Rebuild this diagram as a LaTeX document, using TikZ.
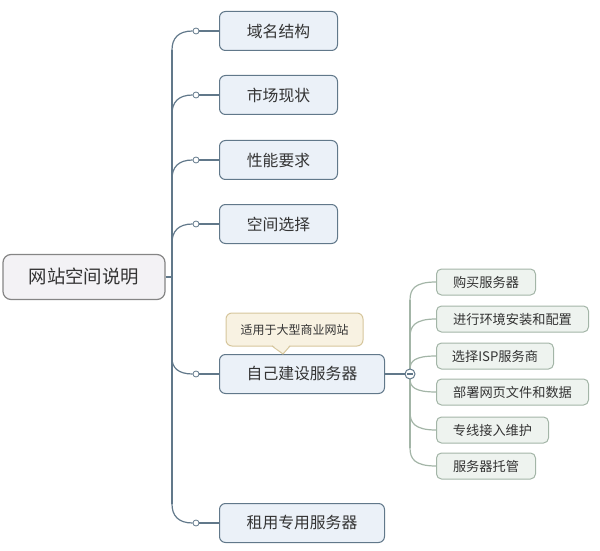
\documentclass[tikz,border=0pt]{standalone}
\usepackage{fontspec}
\setmainfont{Noto Sans CJK SC}
\usetikzlibrary{positioning}

\definecolor{rootfill}{HTML}{F3F2F5}
\definecolor{rootline}{HTML}{858585}
\definecolor{mainfill}{HTML}{EBF1F8}
\definecolor{mainline}{HTML}{61788A}
\definecolor{subfill}{HTML}{EEF3EF}
\definecolor{subline}{HTML}{A3B5A7}
\definecolor{hintfill}{HTML}{F8F2E2}
\definecolor{hintline}{HTML}{D6C69C}
\definecolor{txt}{HTML}{333333}

\begin{document}
\begin{tikzpicture}[x=0.5pt,y=-0.5pt,
	rootbox/.style={draw=rootline, fill=rootfill, rounded corners=4pt, line width=0.6pt,
		minimum width=81pt, minimum height=22.5pt, text=txt, font=\fontsize{9.2}{11}\selectfont},
	mainbox/.style={draw=mainline, fill=mainfill, rounded corners=3pt, line width=0.5pt,
		anchor=west, minimum height=19.5pt, text=txt, font=\fontsize{7.9}{9}\selectfont},
	subbox/.style={draw=subline, fill=subfill, rounded corners=2.5pt, line width=0.5pt,
		anchor=west, minimum height=13pt, text=txt, font=\fontsize{6.6}{8}\selectfont},
	hintbox/.style={draw=hintline, fill=hintfill, rounded corners=3pt, line width=0.5pt,
		minimum width=68.5pt, minimum height=16.5pt, text=txt, font=\fontsize{6}{7}\selectfont},
	knob/.style={circle, draw=mainline, fill=white, line width=0.4pt, inner sep=0pt, minimum size=3pt},
	fold/.style={circle, draw=mainline, fill=white, line width=0.5pt, inner sep=0pt, minimum size=5pt},
	mainlink/.style={draw=mainline, line width=0.6pt},
	sublink/.style={draw=subline, line width=0.6pt}]

	\useasboundingbox (0,0) rectangle (600,551);

	% root
	\node[rootbox] (root) at (84,277) {网站空间说明};

	% first level
	\node[mainbox, minimum width=59pt] (domain) at (219,31) {域名结构};
	\node[mainbox, minimum width=59pt] (market) at (219,95) {市场现状};
	\node[mainbox, minimum width=59pt] (perf) at (219,160) {性能要求};
	\node[mainbox, minimum width=59pt] (choice) at (219,224) {空间选择};
	\node[mainbox, minimum width=82.5pt] (build) at (219,374) {自己建设服务器};
	\node[mainbox, minimum width=82.5pt] (rent) at (219,523) {租用专用服务器};

	\node[hintbox] (hint) at (294.5,329.5) {适用于大型商业网站};
	\fill[hintfill] (272,344.5) -- (283,354) -- (290,344.5) -- cycle;
	\draw[hintline, line width=0.5pt] (272,346) -- (283,354) -- (290,346);

	% trunk
	\coordinate (ttop) at (172,50);
	\coordinate (tbot) at (172,504);
	\draw[mainlink] (root.east) -- (172,277);
	\draw[mainlink] (ttop) -- (tbot);

	\foreach \name/\y/\d in {domain/31/19, market/95/19, perf/160/19, choice/224/19, build/374/-16, rent/523/-19} {
		\node[knob] (k\name) at (196,\y) {};
		\draw[mainlink] (172,\y+\d) .. controls (172,\y+0.4*\d) and (178,\y) .. (k\name.west);
		\draw[mainlink] (k\name.east) -- (\name.west);
	}

	% second level
	\node[subbox, minimum width=49.5pt] (buy) at (436,282) {购买服务器};
	\node[subbox, minimum width=76pt] (setup) at (436,319) {进行环境安装和配置};
	\node[subbox, minimum width=58.5pt] (isp) at (436,356) {选择ISP服务商};
	\node[subbox, minimum width=76pt] (deploy) at (436,392) {部署网页文件和数据};
	\node[subbox, minimum width=56pt] (line) at (436,430) {专线接入维护};
	\node[subbox, minimum width=49.5pt] (host) at (436,466) {服务器托管};

	\draw[sublink] (410,300) -- (410,448);
	\draw[sublink] (410,300) .. controls (410,289) and (415,282) .. (buy.west);
	\draw[sublink] (410,337) .. controls (410,326) and (415,319) .. (setup.west);
	\draw[sublink] (410,369) .. controls (410,361) and (415,356) .. (isp.west);
	\draw[sublink] (410,379) .. controls (410,387) and (415,392) .. (deploy.west);
	\draw[sublink] (410,412) .. controls (410,423) and (415,430) .. (line.west);
	\draw[sublink] (410,448) .. controls (410,459) and (415,466) .. (host.west);

	\draw[mainlink] (build.east) -- (405,374);
	\node[fold] (fold) at (410,374) {};
	\draw[mainline, line width=0.6pt] ([xshift=-1.4pt]fold.center) -- ([xshift=1.4pt]fold.center);

\end{tikzpicture}
\end{document}
